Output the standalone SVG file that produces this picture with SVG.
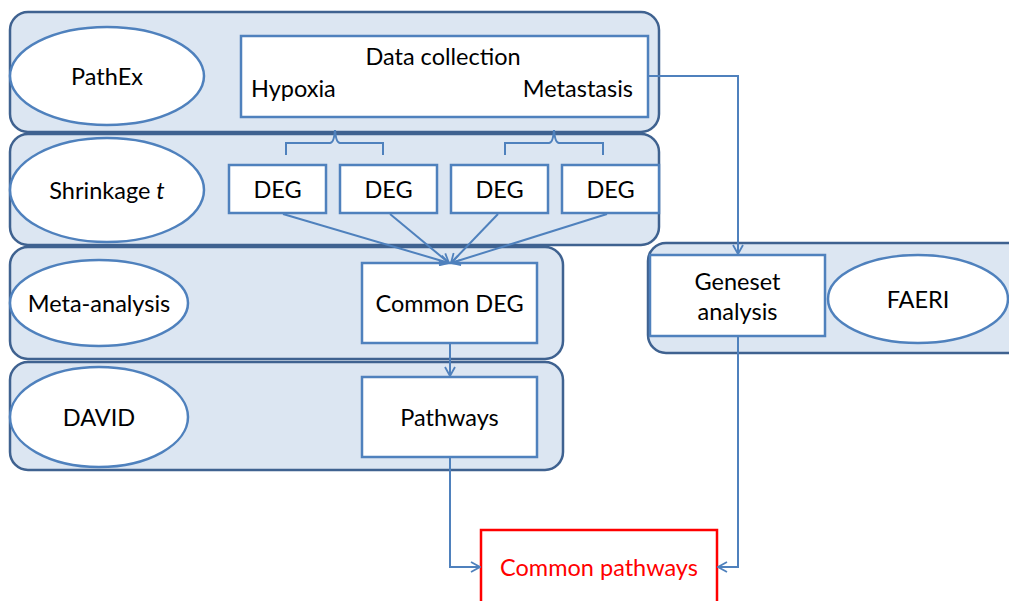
<svg xmlns="http://www.w3.org/2000/svg" width="1009" height="601" viewBox="0 0 1009 601">
<defs>
<marker id="arr" viewBox="0 0 12 12" refX="11" refY="6" markerWidth="12" markerHeight="12" markerUnits="userSpaceOnUse" orient="auto">
<polyline points="2,1 11,6 2,11" fill="none" stroke="#4f81bd" stroke-width="1.8"/>
</marker>
</defs>
<style>
.panel{fill:#dce6f2;stroke:#3f6290;stroke-width:2.5}
.ell{fill:#fff;stroke:#4f81bd;stroke-width:2.5}
.box{fill:#fff;stroke:#4f81bd;stroke-width:2.5}
.red{fill:#fff;stroke:#ff0000;stroke-width:2.5}
.t{font-family:Lato,"Liberation Sans",sans-serif;font-size:23.5px;fill:#000}
.c{text-anchor:middle}
.con{fill:none;stroke:#4f81bd;stroke-width:2}
</style>
<rect width="1009" height="601" fill="#fff"/>
<g id="panel-pathex">
<rect class="panel" x="10" y="12" width="649" height="120" rx="18"/>
<ellipse class="ell" cx="107" cy="76" rx="97" ry="49"/>
<text class="t c" x="107" y="85">PathEx</text>
</g>
<g id="panel-shrinkage">
<rect class="panel" x="10" y="134" width="649" height="111" rx="18"/>
<ellipse class="ell" cx="107" cy="190" rx="97" ry="52"/>
<text class="t c" x="107" y="199">Shrinkage <tspan font-style="italic">t</tspan></text>
</g>
<g id="panel-meta">
<rect class="panel" x="10" y="247" width="553" height="112" rx="18"/>
<ellipse class="ell" cx="99" cy="303" rx="89" ry="43"/>
<text class="t c" x="99" y="312">Meta-analysis</text>
</g>
<g id="panel-david">
<rect class="panel" x="10" y="362" width="553" height="108" rx="18"/>
<ellipse class="ell" cx="99" cy="417" rx="89" ry="50"/>
<text class="t c" x="99" y="426">DAVID</text>
</g>
<g id="panel-faeri">
<rect class="panel" x="648" y="243" width="380" height="110" rx="18"/>
<ellipse class="ell" cx="918" cy="299" rx="90" ry="44"/>
<text class="t c" x="918" y="308">FAERI</text>
</g>
<g id="data-collection">
<rect class="box" x="241" y="36" width="407" height="81"/>
<text class="t c" x="443" y="65">Data collection</text>
<text class="t" x="251" y="97">Hypoxia</text>
<text class="t" x="633" y="97" text-anchor="end">Metastasis</text>
</g>
<g id="deg1"><rect class="box" x="229" y="165" width="97" height="48"/><text class="t c" x="277.5" y="198">DEG</text></g>
<g id="deg2"><rect class="box" x="340" y="165" width="97" height="48"/><text class="t c" x="388.5" y="198">DEG</text></g>
<g id="deg3"><rect class="box" x="451" y="165" width="97" height="48"/><text class="t c" x="499.5" y="198">DEG</text></g>
<g id="deg4"><rect class="box" x="562" y="165" width="97" height="48"/><text class="t c" x="610.5" y="198">DEG</text></g>
<g id="common-deg"><rect class="box" x="362" y="263" width="175" height="80"/><text class="t c" x="449.5" y="312">Common DEG</text></g>
<g id="pathways"><rect class="box" x="362" y="377" width="175" height="80"/><text class="t c" x="449.5" y="426">Pathways</text></g>
<g id="geneset"><rect class="box" x="650" y="255" width="175" height="81"/><text class="t c" x="737.5" y="290">Geneset</text><text class="t c" x="737.5" y="320">analysis</text></g>
<g id="common-pathways"><rect class="red" x="481" y="530" width="236" height="90"/><text class="t c" x="599" y="576" style="fill:#ff0000">Common pathways</text></g>
<g id="connectors">
<path class="con" d="M286,155 V143 H330 Q334,143 335,130 Q336,143 340,143 H383 V155"/>
<path class="con" d="M505,155 V143 H549 Q553,143 554,130 Q555,143 559,143 H603 V155"/>
<path class="con" d="M283,214 L449,263" marker-end="url(#arr)"/>
<path class="con" d="M390,214 L449,263" marker-end="url(#arr)"/>
<path class="con" d="M498,214 L451,263" marker-end="url(#arr)"/>
<path class="con" d="M607,214 L451,263" marker-end="url(#arr)"/>
<path class="con" d="M450,344 V376" marker-end="url(#arr)"/>
<path class="con" d="M648,76 H738 V254" marker-end="url(#arr)"/>
<path class="con" d="M450,458 V567 H480" marker-end="url(#arr)"/>
<path class="con" d="M738,337 V567 H718" marker-end="url(#arr)"/>
</g>
</svg>
